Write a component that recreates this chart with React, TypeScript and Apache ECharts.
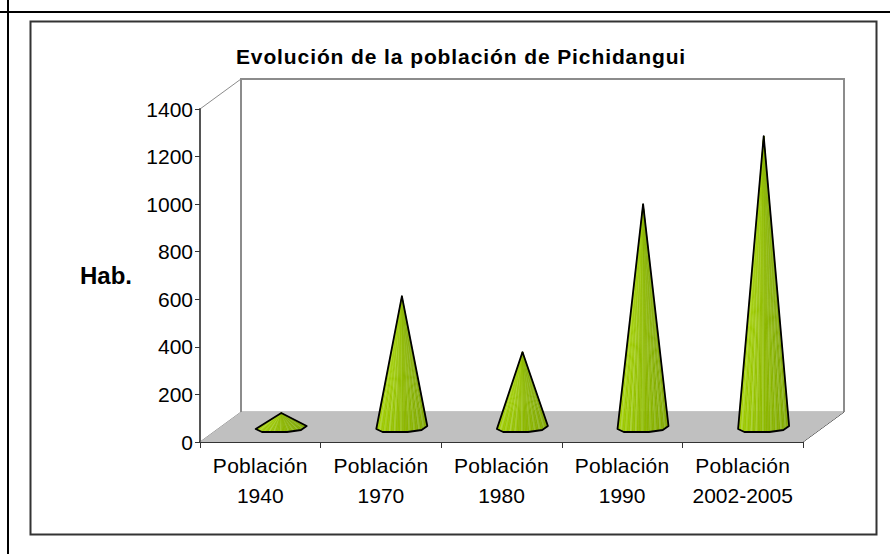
import React, { useEffect, useRef } from "react";
import * as echarts from "echarts";

const titleText = "Evolución de la población de Pichidangui";
const yAxisName = "Hab.";
const categories = ["Población\n1940", "Población\n1970", "Población\n1980", "Población\n1990", "Población\n2002-2005"];
const populationValues = [59, 550, 315, 937, 1223];
const yTicks = { min: 0, max: 1400, interval: 200 };

// cone footprint, relative to the category's point on the front floor edge
const baseOutline: [number, number][] = [[-4.6, -13], [1.7, -10], [26.7, -10], [40.7, -12], [46.4, -16]];
const apexOffset: [number, number] = [21, -15];
const facetColors = [
  "#9fcd00", "#a3d000", "#b2d83a", "#a0cc00", "#9dca00", "#a9d422", "#9cc800", "#9ac600",
  "#aed53a", "#98c400", "#96c200", "#a8d030", "#94c000", "#92bd00", "#92bd00", "#9fc828",
  "#8fba00", "#8eb800", "#8db700", "#8cb600", "#99c226", "#8bb500", "#8ab400", "#98c02c",
  "#88b100", "#87af00", "#97bf30", "#85ad00", "#84ab00", "#94bb2e", "#82a800", "#81a600",
];

function sampleOutline(n: number) {
  const lens: number[] = [0];
  for (let i = 1; i < baseOutline.length; i++) {
    const a = baseOutline[i - 1], b = baseOutline[i];
    lens.push(lens[i - 1] + Math.hypot(b[0] - a[0], b[1] - a[1]));
  }
  const total = lens[lens.length - 1];
  const pts: [number, number][] = [];
  for (let k = 0; k <= n; k++) {
    const d = (total * k) / n;
    let i = 1;
    while (i < lens.length - 1 && lens[i] < d) i++;
    const t = (d - lens[i - 1]) / (lens[i] - lens[i - 1]);
    const a = baseOutline[i - 1], b = baseOutline[i];
    pts.push([a[0] + (b[0] - a[0]) * t, a[1] + (b[1] - a[1]) * t]);
  }
  return pts;
}

export default function App() {
  const ref = useRef<HTMLDivElement>(null);
  useEffect(() => {
    const chart = echarts.init(ref.current!, undefined, { renderer: "svg" });
    const edges = sampleOutline(facetColors.length);
    const frameLine = (x1: number, y1: number, x2: number, y2: number, stroke: string, lineWidth: number) => ({
      type: "line", z: 0, silent: true, shape: { x1, y1, x2, y2 }, style: { stroke, lineWidth },
    });
    const font = "Liberation Sans, Arial, sans-serif";
    chart.setOption({
      animation: false,
      backgroundColor: "#ffffff",
      title: {
        text: titleText, left: 456, top: 39, textAlign: "center",
        textStyle: { fontFamily: font, fontSize: 21, fontWeight: "bold", color: "#000", lineHeight: 24 },
      },
      grid: { left: 200, right: 87, top: 109, bottom: 112 },
      xAxis: {
        type: "category", data: categories,
        axisLine: { lineStyle: { color: "#333", width: 2 } },
        axisTick: { show: true, length: 6, alignWithLabel: false, lineStyle: { color: "#333", width: 1 } },
        axisLabel: { interval: 0, fontFamily: font, fontSize: 21, color: "#000", lineHeight: 29.5, margin: 9 },
      },
      yAxis: {
        type: "value", ...yTicks,
        name: yAxisName, nameLocation: "middle", nameRotate: 0, nameGap: 68,
        nameTextStyle: { fontFamily: font, fontSize: 24, fontWeight: "bold", color: "#000" },
        splitLine: { show: false },
        axisLine: { show: true, lineStyle: { color: "#555", width: 2 } },
        axisTick: { show: true, length: 5, lineStyle: { color: "#333", width: 1 } },
        axisLabel: { fontFamily: font, fontSize: 21, color: "#000", margin: 7, formatter: (v: number) => String(v) },
      },
      graphic: [
        frameLine(0, 12, 890, 12, "#000", 2),
        frameLine(8, 0, 8, 554, "#000", 2),
        { type: "rect", z: 0, silent: true, shape: { x: 30.5, y: 21.5, width: 846, height: 513 }, style: { fill: "#fff", stroke: "#333", lineWidth: 2 } },
        { type: "polygon", z: 1, silent: true, shape: { points: [[200, 442], [241, 412], [844, 412], [803, 442]] }, style: { fill: "#c0c0c0", stroke: "none" } },
        { type: "polyline", z: 1, silent: true, shape: { points: [[241, 412], [241, 79], [844, 79], [844, 412]] }, style: { fill: "none", stroke: "#8c8c8c", lineWidth: 2 } },
        frameLine(200, 442, 241, 412, "#8c8c8c", 1),
        frameLine(200, 109, 241, 79, "#8c8c8c", 1),
        frameLine(241, 412, 844, 412, "#8c8c8c", 1),
        frameLine(803, 442, 844, 412, "#222", 1),
      ],
      series: [{
        type: "custom",
        clip: false,
        z: 5,
        encode: { x: 0, y: 1 },
        data: populationValues.map((v, i) => [i, v]),
        renderItem: (_params: any, api: any) => {
          const front = api.coord([api.value(0), 0]);
          const top = api.coord([api.value(0), api.value(1)]);
          const apex = [front[0] + apexOffset[0], top[1] + apexOffset[1]];
          const pt = (p: [number, number]) => [front[0] + p[0], front[1] + p[1]];
          const children: any[] = facetColors.map((c, i) => ({
            type: "polygon",
            shape: { points: [apex, pt(edges[i]), pt(edges[i + 1])] },
            style: { fill: c, stroke: c, lineWidth: 0.4 },
          }));
          children.push({
            type: "polygon",
            shape: { points: [apex, ...baseOutline.map(pt)] },
            style: { fill: "none", stroke: "#000", lineWidth: 1.8, lineJoin: "round" },
          });
          return { type: "group", children };
        },
      }],
    });
    // the reference's type is tracked out wider than the installed font's metrics
    ref.current!.querySelectorAll("text").forEach((t) => {
      const s = t.textContent || "";
      if (s === titleText) t.style.letterSpacing = "0.9px";
      else if (s === "Población") t.style.letterSpacing = "0.3px";
    });
    return () => chart.dispose();
  }, []);
  return <div ref={ref} style={{ position: "fixed", left: 0, top: 0, width: 890, height: 554 }} />;
}
